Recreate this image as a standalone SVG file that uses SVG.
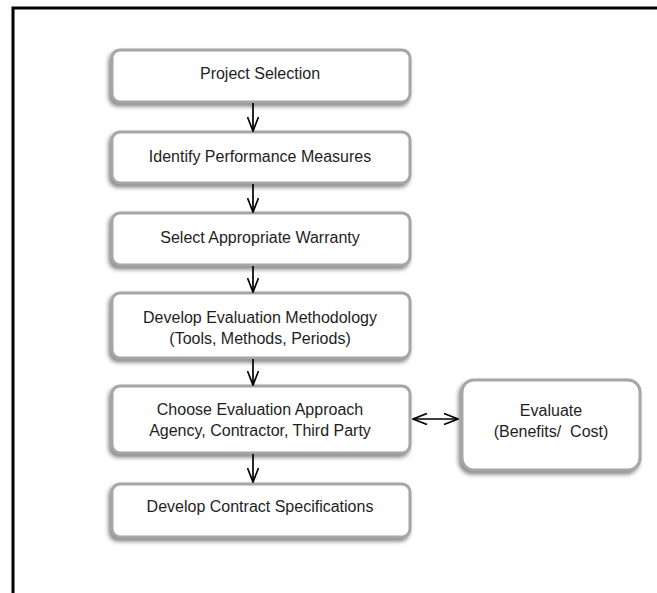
<svg xmlns="http://www.w3.org/2000/svg" width="657" height="593" viewBox="0 0 657 593">
  <defs>
    <filter id="shadow" x="-10%" y="-20%" width="120%" height="150%">
      <feDropShadow dx="-2" dy="3" stdDeviation="2.2" flood-color="#6f6f6f" flood-opacity="0.85"/>
    </filter>
    <marker id="head" viewBox="0 0 16 12" refX="15" refY="6" markerWidth="16" markerHeight="12" markerUnits="userSpaceOnUse" orient="auto-start-reverse">
      <path d="M1,0.5 L15,6 L1,11.5" fill="none" stroke="#000" stroke-width="1.7"/>
    </marker>
    <style>
      .box { fill: #ffffff; stroke: #a6a6a6; stroke-width: 3; filter: url(#shadow); }
      .lbl { font-family: "Liberation Sans", Arial, sans-serif; font-size: 16px; fill: #1e1e1e; text-anchor: middle; white-space: pre; }
      .link { fill: none; stroke: #000; stroke-width: 1.7; marker-end: url(#head); }
      .both { marker-start: url(#head); }
    </style>
  </defs>

  <rect width="657" height="593" fill="#ffffff"/>
  <!-- outer frame, open at the right and bottom -->
  <path d="M13,593 V8 H657" fill="none" stroke="#000" stroke-width="3"/>

  <g id="project-selection">
    <rect class="box" x="112" y="50" width="298" height="52" rx="8"/>
    <text class="lbl" x="260" y="79">Project Selection</text>
  </g>
  <g id="identify-measures">
    <rect class="box" x="112" y="132" width="298" height="51" rx="8"/>
    <text class="lbl" x="260" y="162">Identify Performance Measures</text>
  </g>
  <g id="select-warranty">
    <rect class="box" x="112" y="213" width="298" height="52" rx="8"/>
    <text class="lbl" x="260" y="243">Select Appropriate Warranty</text>
  </g>
  <g id="evaluation-methodology">
    <rect class="box" x="112" y="293" width="298" height="65" rx="8"/>
    <text class="lbl" x="260" y="323">Develop Evaluation Methodology</text>
    <text class="lbl" x="260" y="344">(Tools, Methods, Periods)</text>
  </g>
  <g id="evaluation-approach">
    <rect class="box" x="112" y="386" width="298" height="67" rx="8"/>
    <text class="lbl" x="260" y="415">Choose Evaluation Approach</text>
    <text class="lbl" x="260" y="436">Agency, Contractor, Third Party</text>
  </g>
  <g id="contract-specifications">
    <rect class="box" x="112" y="484" width="298" height="53" rx="8"/>
    <text class="lbl" x="260" y="512">Develop Contract Specifications</text>
  </g>
  <g id="evaluate">
    <rect class="box" x="462" y="380" width="178" height="90" rx="12"/>
    <text class="lbl" x="551" y="416">Evaluate</text>
    <text class="lbl" x="551" y="437">(Benefits/  Cost)</text>
  </g>

  <g id="connectors">
    <path class="link" d="M253,103 V131"/>
    <path class="link" d="M253,184 V212"/>
    <path class="link" d="M253,266 V292"/>
    <path class="link" d="M253,359 V385"/>
    <path class="link" d="M253,454 V482"/>
    <path class="link both" d="M413,419 H458"/>
  </g>
</svg>
